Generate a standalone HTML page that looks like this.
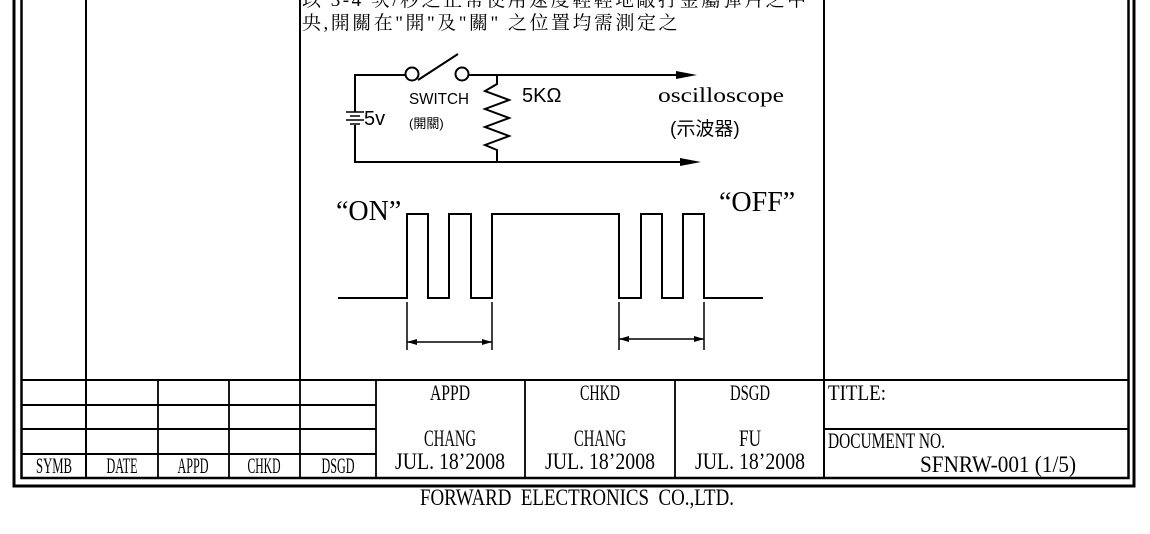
<!DOCTYPE html>
<html><head><meta charset="utf-8"><style>
html,body{margin:0;padding:0;background:#fff;}
svg{display:block;}
.s{font-family:"Liberation Serif","Noto Serif CJK TC",serif;}
.c{font-family:"Liberation Serif","Noto Serif CJK TC","Noto Serif CJK SC",serif;}
.a{font-family:"Liberation Sans","Noto Sans CJK TC",sans-serif;}
</style></head><body>
<svg width="1150" height="534" viewBox="0 0 1150 534" xmlns="http://www.w3.org/2000/svg">
<g fill="none" stroke="#000">
<path d="M14,-5 V486 H1134 V-5" stroke-width="3"/>
<path d="M21.5,-5 V478 H1128.5 V-5" stroke-width="2.5"/>
<path d="M86,-5 V478 M300,-5 V380 M824,-5 V478" stroke-width="2"/>
<path d="M21,380 H1129 M21,405 H376 M21,429 H376 M21,454 H376 M824,429 H1129" stroke-width="2"/>
<path d="M158,380 V478 M229,380 V478 M300,380 V478 M376,380 V478 M525,380 V478 M675,380 V478" stroke-width="1.8"/>
<g stroke-width="2">
<path d="M406,75 H355 V112 M355,125 V162 H680"/>
<path d="M469,75 H676"/>
<circle cx="412" cy="74" r="6.5"/>
<circle cx="462" cy="74" r="6.5"/>
<path d="M418,80 L458,54"/>
<path d="M497,75 V84 L485,91 L509,100 L485,109 L509,118 L485,127 L509,136 L485,145 L497,150 V162"/>
<path d="M346,112 H364 M350,116 H360 M346,120 H364 M350,124 H360" stroke-width="1.6"/>
</g>
<path d="M676,71 L697,75 L676,79 Z M680,158 L701,162 L680,166 Z" fill="#000" stroke="none"/>
<path d="M338,298 H407 V214 H428 V298 H449 V214 H471 V298 H492 V214 H619 V298 H641 V214 H662 V298 H683 V214 H704 V298 H763" stroke-width="2"/>
<path d="M407,302 V350 M492,302 V350 M619,302 V350 M704,302 V350 M407,342 H492 M619,339 H704" stroke-width="1.5"/>
<path d="M407,342 l10,-3 v6 Z M492,342 l-10,-3 v6 Z M619,339 l10,-3 v6 Z M704,339 l-10,-3 v6 Z" fill="#000" stroke="none"/>
</g>
<g fill="#000">
<text class="c" x="302" y="6" font-size="19" letter-spacing="2.5">以 3-4 次/秒之正常使用速度輕輕地敲打金屬彈片之中</text>
<text class="c" x="302" y="29" font-size="19" letter-spacing="2.5">央,開關在"開"及"關" 之位置均需測定之</text>
<text class="a" x="364" y="125" font-size="20">5v</text>
<text class="a" x="409" y="104" font-size="16" textLength="60" lengthAdjust="spacingAndGlyphs">SWITCH</text>
<text class="a" x="409" y="128" font-size="13">(開關)</text>
<text class="a" x="522" y="102" font-size="20">5KΩ</text>
<text class="s" x="658" y="102" font-size="21" textLength="126" lengthAdjust="spacingAndGlyphs">oscilloscope</text>
<text class="a" x="670" y="135" font-size="19">(示波器)</text>
<text class="s" x="336" y="220" font-size="28">“ON”</text>
<text class="s" x="719" y="211" font-size="28">“OFF”</text>
<text class="s" x="54" y="473" font-size="22" text-anchor="middle" textLength="36" lengthAdjust="spacingAndGlyphs">SYMB</text>
<text class="s" x="122" y="473" font-size="22" text-anchor="middle" textLength="31" lengthAdjust="spacingAndGlyphs">DATE</text>
<text class="s" x="193" y="473" font-size="22" text-anchor="middle" textLength="31" lengthAdjust="spacingAndGlyphs">APPD</text>
<text class="s" x="264" y="473" font-size="22" text-anchor="middle" textLength="33" lengthAdjust="spacingAndGlyphs">CHKD</text>
<text class="s" x="338" y="473" font-size="22" text-anchor="middle" textLength="33" lengthAdjust="spacingAndGlyphs">DSGD</text>
<text class="s" x="450" y="400" font-size="22" text-anchor="middle" textLength="40" lengthAdjust="spacingAndGlyphs">APPD</text>
<text class="s" x="600" y="400" font-size="22" text-anchor="middle" textLength="40" lengthAdjust="spacingAndGlyphs">CHKD</text>
<text class="s" x="750" y="400" font-size="22" text-anchor="middle" textLength="40" lengthAdjust="spacingAndGlyphs">DSGD</text>
<text class="s" x="450" y="446" font-size="23" text-anchor="middle" textLength="52" lengthAdjust="spacingAndGlyphs">CHANG</text>
<text class="s" x="600" y="446" font-size="23" text-anchor="middle" textLength="52" lengthAdjust="spacingAndGlyphs">CHANG</text>
<text class="s" x="750" y="446" font-size="23" text-anchor="middle" textLength="22" lengthAdjust="spacingAndGlyphs">FU</text>
<text class="s" x="450" y="469" font-size="23" text-anchor="middle" textLength="110" lengthAdjust="spacingAndGlyphs">JUL. 18’2008</text>
<text class="s" x="600" y="469" font-size="23" text-anchor="middle" textLength="110" lengthAdjust="spacingAndGlyphs">JUL. 18’2008</text>
<text class="s" x="750" y="469" font-size="23" text-anchor="middle" textLength="110" lengthAdjust="spacingAndGlyphs">JUL. 18’2008</text>
<text class="s" x="828" y="400" font-size="22" textLength="58" lengthAdjust="spacingAndGlyphs">TITLE:</text>
<text class="s" x="828" y="448" font-size="22" textLength="117" lengthAdjust="spacingAndGlyphs">DOCUMENT NO.</text>
<text class="s" x="920" y="472" font-size="23" textLength="156" lengthAdjust="spacingAndGlyphs">SFNRW-001 (1/5)</text>
<text class="s" x="420" y="505" font-size="23" textLength="314" lengthAdjust="spacingAndGlyphs" xml:space="preserve">FORWARD  ELECTRONICS  CO.,LTD.</text>
</g>
</svg>
</body></html>
